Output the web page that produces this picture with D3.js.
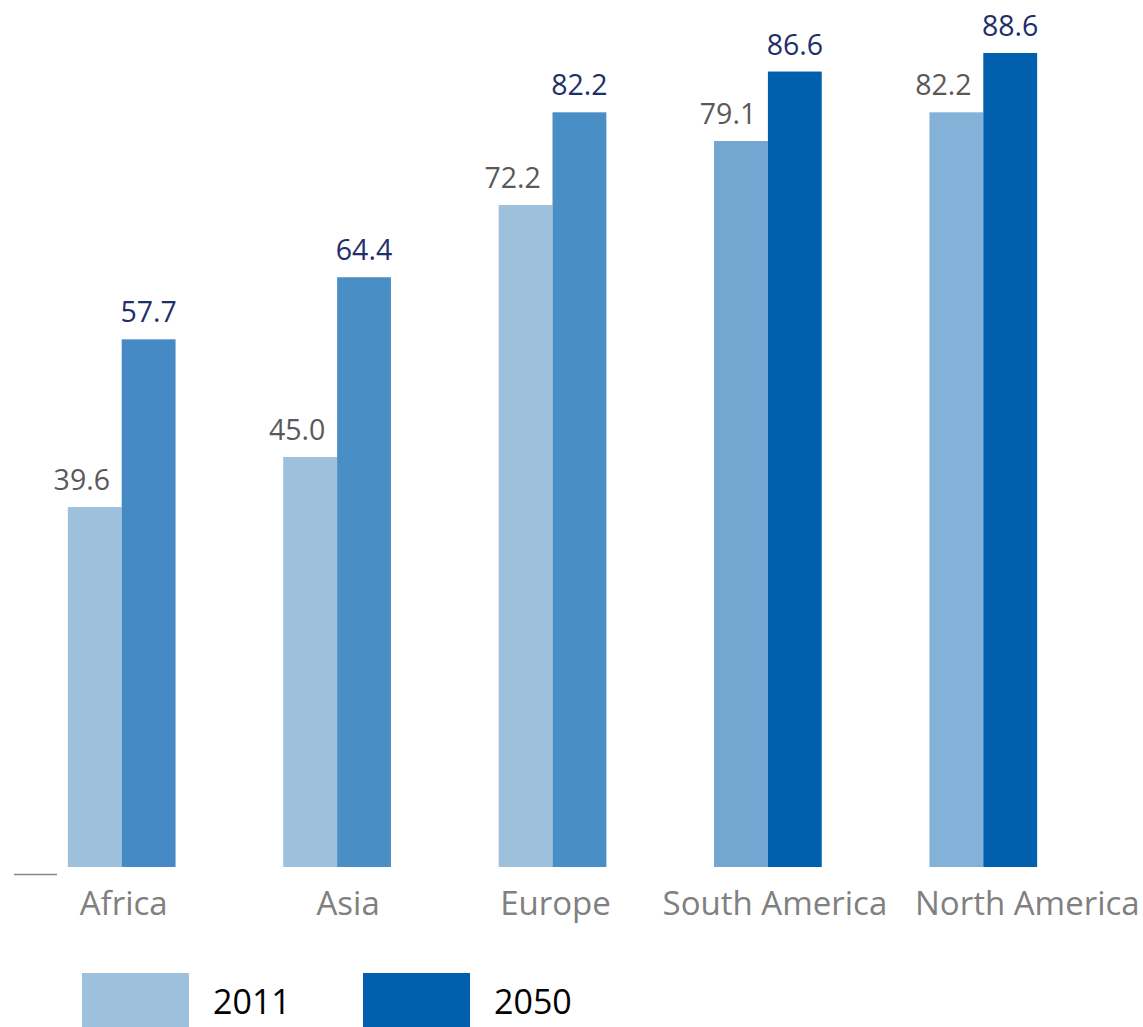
<!DOCTYPE html>
<html>
<head>
<meta charset="utf-8">
<script src="https://cdn.jsdelivr.net/npm/d3@7"></script>
<style>
  html, body { margin: 0; padding: 0; background: #fff; }
  svg { display: block; }
  text { font-family: "Open Sans", "Noto Sans", sans-serif; }
</style>
</head>
<body>
<svg id="chart" width="1143" height="1027"></svg>
<script>
// Urbanisation share (%) by continent
const categories = ["Africa", "Asia", "Europe", "South America", "North America"];
const seriesNames = ["2011", "2050"];
const values2011 = [39.6, 45.0, 72.2, 79.1, 82.2];
const values2050 = [57.7, 64.4, 82.2, 86.6, 88.6];

// Fill per continent for each year
const fill2011 = ["#9dc0dd", "#9dc0dd", "#9dc0dd", "#74a6d2", "#84b1d8"];
const fill2050 = ["#4589c5", "#4a8ec6", "#4a8ec6", "#0060ae", "#0060ae"];
const legendFill = ["#9dc0dd", "#0060ae"];
// Small horizontal nudges so neighbouring category names do not collide
const labelNudge = [2, 11, 3, 7, 44];

const svg = d3.select("#chart");

const x0 = d3.scaleBand().domain(categories).range([14, 1091])
  .paddingInner(0.5).paddingOuter(0.25);
const x1 = d3.scaleBand().domain(seriesNames).range([0, x0.bandwidth()]);
const y = d3.scaleLinear().domain([0, 88.6]).range([874, 53]);
const barBottom = y(0) - 7;

const rows = categories.map((c, i) => ({
  cat: c, i,
  vals: [
    { s: "2011", v: values2011[i], fill: fill2011[i] },
    { s: "2050", v: values2050[i], fill: fill2050[i] }
  ]
}));

const g = svg.append("g");
const groups = g.selectAll("g.grp").data(rows).join("g")
  .attr("class", "grp")
  .attr("transform", d => `translate(${x0(d.cat)},0)`);

groups.selectAll("rect").data(d => d.vals).join("rect")
  .attr("x", d => x1(d.s))
  .attr("width", x1.bandwidth())
  .attr("y", d => y(d.v))
  .attr("height", d => barBottom - y(d.v))
  .attr("fill", d => d.fill);

// Value labels
groups.selectAll("text.val").data(d => d.vals).join("text")
  .attr("class", "val")
  .attr("x", d => x1(d.s) + x1.bandwidth() / 2 + (d.s === "2011" ? -13 : 0))
  .attr("y", d => y(d.v) - 17)
  .attr("text-anchor", "middle")
  .attr("font-size", 28.5)
  .attr("fill", d => d.s === "2011" ? "#595959" : "#1f2f6b")
  .text(d => d3.format(".1f")(d.v));

// Short axis stub at the left
svg.append("line")
  .attr("x1", 14).attr("x2", 57)
  .attr("y1", y(0) + 0.5).attr("y2", y(0) + 0.5)
  .attr("stroke", "#868686").attr("stroke-width", 1.5);

// Category labels
svg.selectAll("text.cat").data(categories).join("text")
  .attr("class", "cat")
  .attr("x", (d, i) => x0(d) + x0.bandwidth() / 2 + labelNudge[i])
  .attr("y", 915)
  .attr("text-anchor", "middle")
  .attr("font-size", 33)
  .attr("fill", "#808080")
  .text(d => d);

// Legend
const legend = svg.append("g");
const legX = [82, 363];
seriesNames.forEach((s, i) => {
  legend.append("rect")
    .attr("x", legX[i]).attr("y", 973)
    .attr("width", 107).attr("height", 54)
    .attr("fill", legendFill[i]);
  legend.append("text")
    .attr("x", legX[i] + 131).attr("y", 1014)
    .attr("font-size", 34)
    .attr("fill", "#000")
    .text(s);
});
</script>
</body>
</html>
